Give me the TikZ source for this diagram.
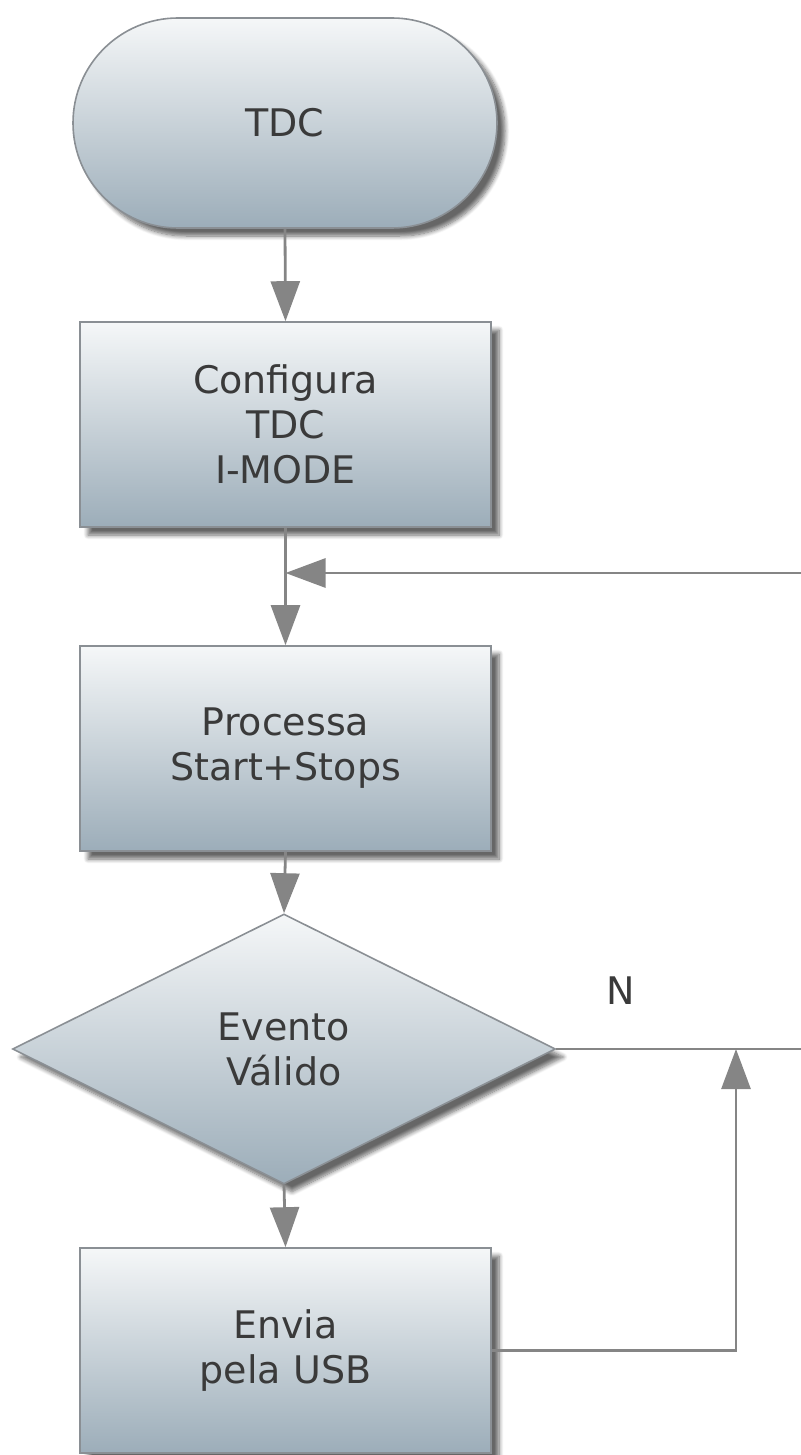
\documentclass[tikz,border=0pt]{standalone}
\usepackage{fontspec}
\setmainfont{DejaVu Sans}
\usetikzlibrary{arrows.meta,shapes.geometric,shapes.misc,shadows.blur}
\definecolor{linegray}{HTML}{858585}
\definecolor{txtgray}{HTML}{3A3A3A}
\definecolor{topfill}{HTML}{F5F7F8}
\definecolor{midfill}{HTML}{D3DADF}
\definecolor{botfill}{HTML}{9CADB9}
\definecolor{edgegray}{HTML}{8A8F94}
\begin{document}
\begin{tikzpicture}[x=0.5pt,y=-0.5pt,
  shapebox/.style={draw=edgegray,line width=0.8pt,top color=topfill,middle color=midfill,bottom color=botfill,
    text=txtgray,align=center,inner sep=0pt,
    font=\fontsize{19}{22.5}\selectfont,
    blur shadow={shadow xshift=4pt,shadow yshift=-4pt,shadow blur steps=8,shadow opacity=60}},
  procbox/.style={shapebox,rectangle,minimum width=205.5pt,minimum height=102.5pt},
  termbox/.style={shapebox,rounded rectangle,minimum width=212pt,minimum height=105pt},
  decbox/.style={shapebox,diamond,minimum width=271.5pt,minimum height=135pt},
  conn/.style={draw=linegray,line width=1.4pt},
  arr/.style={conn,-{Triangle[length=20pt,width=14.5pt]}},
  lbl/.style={text=txtgray,font=\fontsize{19}{22.5}\selectfont,inner sep=0pt}
]
\useasboundingbox (0,0) rectangle (800,1455);
\node[termbox] (term) at (285,123) {TDC};
\node[procbox] (conf) at (285.5,424.5) {Configura\\TDC\\I-MODE};
\node[procbox] (proc) at (285.5,748.5) {Processa\\Start+Stops};
\node[decbox] (dec) at (284,1049) {Evento\\Válido};
\node[procbox] (env) at (285.5,1350.5) {Envia\\pela USB};
\node[lbl] (nlab) at (621,991) {N};
\coordinate (merge) at (285.5,573);
\coordinate (rtop) at (815,573);
\coordinate (rbot) at (815,1049);
\coordinate (jn) at (736,1049);
\draw[arr] (term.south) -- (conf.north);
\draw[arr] (conf.south) -- (proc.north);
\draw[arr] (proc.south) -- (dec.north);
\draw[arr] (dec.south) -- (env.north);
\draw[conn] (dec.east) -- (rbot) -- (rtop);
\draw[arr] (rtop) -- (merge);
\draw[arr] (env.east) -| (jn);
\end{tikzpicture}
\end{document}
